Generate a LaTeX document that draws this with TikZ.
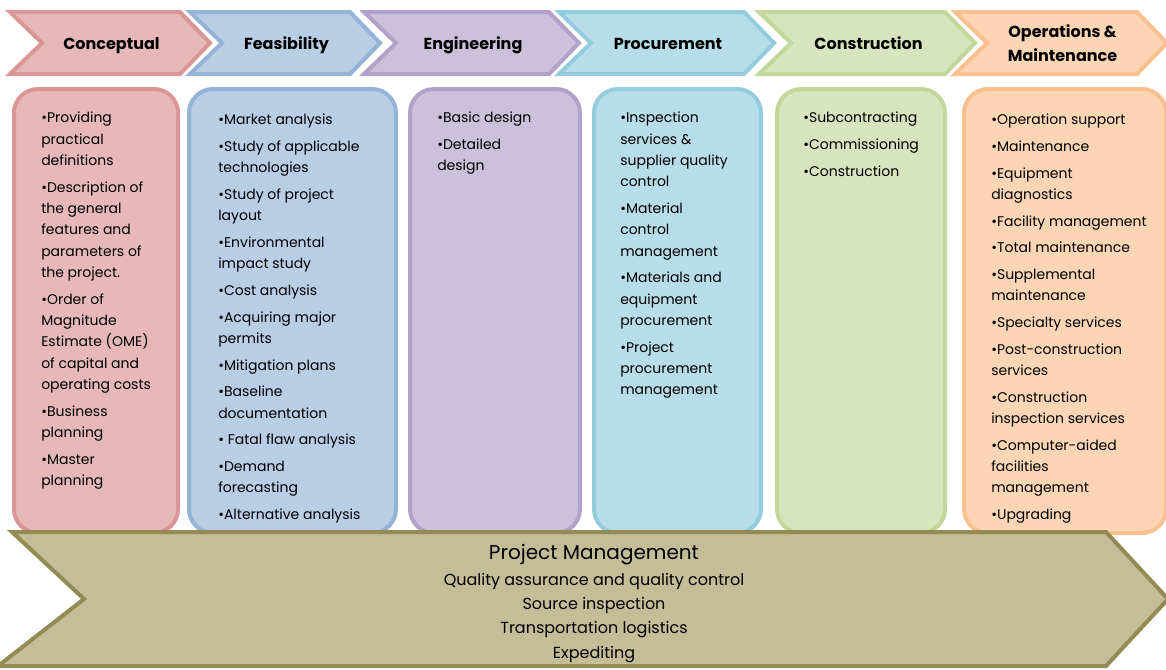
\documentclass[tikz,border=0pt]{standalone}
\usepackage{fontspec}
\setmainfont{Poppins}
\usetikzlibrary{positioning}

\definecolor{concFill}{HTML}{E6B9B8}
\definecolor{concLine}{HTML}{D99694}
\definecolor{feasFill}{HTML}{B9CDE5}
\definecolor{feasLine}{HTML}{95B3D7}
\definecolor{engFill}{HTML}{CCC1DA}
\definecolor{engLine}{HTML}{B3A2C7}
\definecolor{procFill}{HTML}{B7DEE8}
\definecolor{procLine}{HTML}{93CDDD}
\definecolor{consFill}{HTML}{D7E4BD}
\definecolor{consLine}{HTML}{C3D69B}
\definecolor{omFill}{HTML}{FCD5B5}
\definecolor{omLine}{HTML}{FAC090}
\definecolor{pmFill}{HTML}{C4BD97}
\definecolor{pmLine}{HTML}{948A54}

\begin{document}
\begin{tikzpicture}[x=0.75pt,y=-0.75pt,
        phase/.style={line width=3pt,line join=miter},
        stage/.style={line width=3pt,rounded corners=18pt},
        phasetext/.style={font=\fontsize{12}{18}\selectfont\bfseries,align=center,inner sep=0},
        items/.style={font=\fontsize{10.5}{16}\selectfont,align=left,anchor=north west,inner sep=0},
        pmtext/.style={font=\fontsize{12}{18}\selectfont,anchor=base,inner sep=0}]

        \useasboundingbox (0,0) rectangle (1166,669);

        \foreach \ph/\xl/\xt/\lab in {conc/8/213/Conceptual, feas/188/383/Feasibility,
                eng/362/582/Engineering, proc/557/777/Procurement,
                cons/757/978/Construction, om/953/1170/{Operations \&\\Maintenance}}
        {
                \filldraw[phase,fill=\ph Fill,draw=\ph Line]
                        (\xl+2,12) -- (\xt-33,12) -- (\xt-3,43) -- (\xt-33,74)
                        -- (\xl+2,74) -- (\xl+34,43) -- cycle;
                \node[phasetext] (\ph) at ({(\xl+\xt+2)/2},45) {\strut\lab\strut};
        }

        \foreach \ph/\xa/\xb in {conc/12/180, feas/187/398, eng/408/582,
                proc/592/763, cons/775/947, om/962/1168}
                \filldraw[stage,fill=\ph Fill,draw=\ph Line] (\xa+2,89) rectangle (\xb-2,533);

        \node[items] (conclist) at (41,107.5) {\strut•Providing\\practical\\definitions\\[4pt]%
                •Description of\\the general\\features and\\parameters of\\the project.\\[4pt]%
                •Order of\\Magnitude\\Estimate (OME)\\of capital and\\operating costs\\[4pt]%
                •Business\\planning\\[4pt]•Master\\planning};
        \node[items] (feaslist) at (218,109.5) {\strut•Market analysis\\[4pt]%
                •Study of applicable\\technologies\\[4pt]•Study of project\\layout\\[4pt]%
                •Environmental\\impact study\\[4pt]•Cost analysis\\[4pt]%
                •Acquiring major\\permits\\[4pt]•Mitigation plans\\[4pt]%
                •Baseline\\documentation\\[4pt]• Fatal flaw analysis\\[4pt]%
                •Demand\\forecasting\\[4pt]•Alternative analysis};
        \node[items] (englist) at (437,107.5) {\strut•Basic design\\[4pt]•Detailed\\design};
        \node[items] (proclist) at (620,107.5) {\strut•Inspection\\services \&\\supplier quality\\control\\[4pt]%
                •Material\\control\\management\\[4pt]%
                •Materials and\\equipment\\procurement\\[4pt]%
                •Project\\procurement\\management};
        \node[items] (conslist) at (803,107.5) {\strut•Subcontracting\\[4pt]•Commissioning\\[4pt]•Construction};
        \node[items] (omlist) at (991,109.5) {\strut•Operation support\\[4pt]•Maintenance\\[4pt]%
                •Equipment\\diagnostics\\[4pt]•Facility management\\[4pt]%
                •Total maintenance\\[4pt]•Supplemental\\maintenance\\[4pt]%
                •Specialty services\\[4pt]•Post-construction\\services\\[4pt]%
                •Construction\\inspection services\\[4pt]%
                •Computer-aided\\facilities\\management\\[4pt]•Upgrading};

        \filldraw[phase,fill=pmFill,draw=pmLine]
                (12,532) -- (1106,532) -- (1168,599) -- (1106,666)
                -- (-2,666) -- (84,599) -- cycle;

        \node[pmtext,font=\fontsize{15}{18}\selectfont] (pm) at (594,559) {Project Management};
        \node[pmtext] (pmqa) at (594,585.5) {Quality assurance and quality control};
        \node[pmtext] (pmsrc) at (594,609.5) {Source inspection};
        \node[pmtext] (pmlog) at (594,633.5) {Transportation logistics};
        \node[pmtext] (pmexp) at (594,658.5) {Expediting};
\end{tikzpicture}
\end{document}
